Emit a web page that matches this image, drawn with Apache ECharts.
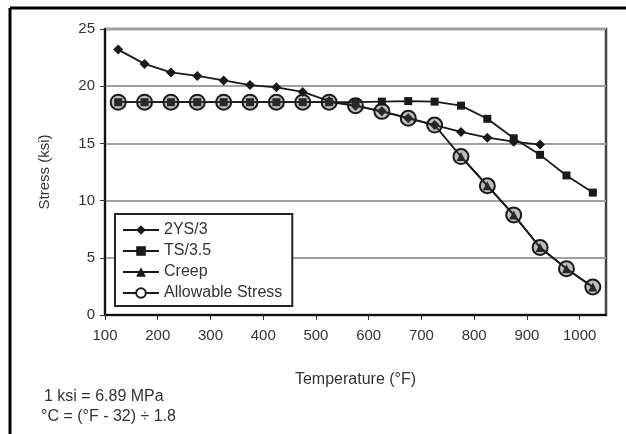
<!DOCTYPE html>
<html>
<head>
  <meta charset="utf-8">
  <title>Allowable stress vs temperature</title>
  <script src="https://cdn.jsdelivr.net/npm/echarts@6/dist/echarts.min.js"></script>
  <style>
    html, body { margin: 0; padding: 0; background: #fff; }
    #chart { width: 626px; height: 434px; }
  </style>
</head>
<body>
<div id="chart"></div>
<script type="text/javascript">
// temperatures (°F) of the data points
var temps = [125, 175, 225, 275, 325, 375, 425, 475, 525, 575, 625, 675, 725, 775, 825, 875, 925, 975, 1025];
// stress values (ksi), null = no point
var ys2_3 = [23.2, 21.95, 21.2, 20.9, 20.5, 20.1, 19.9, 19.5, 18.7, 18.3, 17.8, 17.2, 16.6, 16.0, 15.5, 15.15, 14.9, null, null];
var ts3_5 = [18.6, 18.6, 18.6, 18.6, 18.6, 18.6, 18.6, 18.6, 18.6, 18.6, 18.65, 18.7, 18.65, 18.3, 17.15, 15.45, 14.0, 12.2, 10.7];
var creep = [null, null, null, null, null, null, null, null, null, null, null, null, null, 13.85, 11.3, 8.75, 5.9, 4.05, 2.45];
var allowable = [18.6, 18.6, 18.6, 18.6, 18.6, 18.6, 18.6, 18.6, 18.6, 18.3, 17.8, 17.2, 16.6, 13.85, 11.3, 8.75, 5.9, 4.05, 2.45];

var seriesNames = ['2YS/3', 'TS/3.5', 'Creep', 'Allowable Stress'];
var footNotes = ['1 ksi = 6.89 MPa', '°C = (°F - 32) ÷ 1.8'];

var font = "'Liberation Sans', Arial, sans-serif";

function pairs(vals) {
  var out = [];
  for (var i = 0; i < temps.length; i++) {
    if (vals[i] != null) out.push([temps[i], vals[i]]);
  }
  return out;
}

function lineSeries(name, vals, symbol, size) {
  return {
    name: name,
    type: 'line',
    data: pairs(vals),
    symbol: symbol,
    symbolSize: size,
    lineStyle: { color: '#1a1a1a', width: 1.8 },
    itemStyle: { color: '#1a1a1a' },
    emphasis: { disabled: true },
    animation: false
  };
}

var chart = echarts.init(document.getElementById('chart'));

var allowSeries = lineSeries(seriesNames[3], allowable, 'circle', 15);
allowSeries.itemStyle = { color: 'rgba(70,70,70,0.35)', borderColor: '#1a1a1a', borderWidth: 2 };

var legendData = [];
for (var i = 0; i < seriesNames.length; i++) {
  var d = { name: seriesNames[i] };
  if (i == 3) d.itemStyle = { color: '#fff', borderColor: '#1a1a1a', borderWidth: 2 };
  legendData.push(d);
}

var option = {
  backgroundColor: '#fff',
  textStyle: { fontFamily: font },
  grid: {
    left: 105, top: 29, right: 20, bottom: 119,
    show: true, borderColor: '#444', borderWidth: 2.5
  },
  legend: {
    orient: 'vertical',
    left: 115, top: 214,
    data: legendData,
    itemWidth: 36, itemHeight: 12, itemGap: 3,
    padding: [7, 10, 4, 7],
    borderColor: '#222', borderWidth: 2,
    backgroundColor: '#fff',
    textStyle: { fontFamily: font, fontSize: 16, color: '#333', lineHeight: 18 },
    selectedMode: false
  },
  xAxis: {
    type: 'value',
    min: 100, max: 1050, interval: 100,
    name: 'Temperature (°F)',
    nameLocation: 'middle', nameGap: 57,
    nameTextStyle: { fontFamily: font, fontSize: 16, color: '#333' },
    axisLine: { onZero: false, lineStyle: { color: '#111', width: 2 } },
    axisTick: { show: true, length: 5, lineStyle: { color: '#333', width: 1 } },
    axisLabel: {
      fontFamily: font, fontSize: 15, color: '#333', margin: 13, showMaxLabel: false,
      formatter: function (v) { return String(v); }
    },
    splitLine: { show: false }
  },
  yAxis: {
    type: 'value',
    min: 0, max: 25, interval: 5,
    name: 'Stress (ksi)',
    nameLocation: 'middle', nameGap: 53,
    nameTextStyle: { fontFamily: font, fontSize: 15, color: '#333' },
    axisLine: { show: true, lineStyle: { color: '#111', width: 2 } },
    axisTick: { show: true, length: 5, lineStyle: { color: '#333', width: 1 } },
    axisLabel: { fontFamily: font, fontSize: 15, color: '#333', margin: 10 },
    splitLine: { show: true, lineStyle: { color: '#a0a0a0', width: 2 } }
  },
  graphic: [
    { type: 'line', shape: { x1: 10, y1: 8, x2: 626, y2: 8 }, style: { stroke: '#000', lineWidth: 3 } },
    { type: 'line', shape: { x1: 10, y1: 8, x2: 10, y2: 434 }, style: { stroke: '#000', lineWidth: 3 } },
    { type: 'text', left: 44, top: 389, style: { text: footNotes[0], font: '16px ' + font, fill: '#333' } },
    { type: 'text', left: 41, top: 409, style: { text: footNotes[1], font: '16px ' + font, fill: '#333' } }
  ],
  series: [
    lineSeries(seriesNames[0], ys2_3, 'diamond', 10),
    lineSeries(seriesNames[1], ts3_5, 'rect', 8),
    lineSeries(seriesNames[2], creep, 'triangle', 9),
    allowSeries
  ]
};

chart.setOption(option);
</script>
</body>
</html>
